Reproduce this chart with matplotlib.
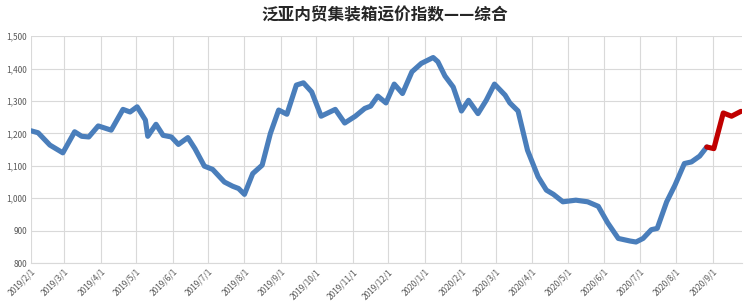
import matplotlib
matplotlib.use("Agg")
import matplotlib.pyplot as plt
import numpy as np
import pandas as pd

plt.rcParams['font.family'] = ['Noto Sans CJK SC', 'DejaVu Sans']

# 泛亚内贸集装箱运价指数 - 综合
dates_hist = ['2019-02-01', '2019-02-07', '2019-02-17', '2019-02-28', '2019-03-10',
              '2019-03-16', '2019-03-22', '2019-03-30', '2019-04-10', '2019-04-20',
              '2019-04-26', '2019-05-02', '2019-05-09', '2019-05-11', '2019-05-18',
              '2019-05-24', '2019-05-31', '2019-06-06', '2019-06-14', '2019-06-20',
              '2019-06-28', '2019-07-05', '2019-07-15', '2019-07-22', '2019-07-27',
              '2019-08-01', '2019-08-08', '2019-08-16', '2019-08-23', '2019-08-30',
              '2019-09-06', '2019-09-14', '2019-09-20', '2019-09-27', '2019-10-05',
              '2019-10-17', '2019-10-25', '2019-11-03', '2019-11-11', '2019-11-16',
              '2019-11-22', '2019-11-29', '2019-12-06', '2019-12-13', '2019-12-21',
              '2019-12-29', '2020-01-08', '2020-01-12', '2020-01-18', '2020-01-25',
              '2020-02-01', '2020-02-07', '2020-02-15', '2020-02-22', '2020-02-29',
              '2020-03-09', '2020-03-13', '2020-03-20', '2020-03-28', '2020-04-06',
              '2020-04-13', '2020-04-19', '2020-04-27', '2020-05-08', '2020-05-18',
              '2020-05-27', '2020-06-04', '2020-06-13', '2020-06-23', '2020-06-28',
              '2020-07-04', '2020-07-11', '2020-07-16', '2020-07-24', '2020-07-31',
              '2020-08-08', '2020-08-14', '2020-08-21', '2020-08-27']
values_hist = [1208, 1202, 1164, 1140, 1205,
               1191, 1189, 1223, 1210, 1274,
               1266, 1282, 1241, 1191, 1228,
               1194, 1189, 1166, 1187, 1153,
               1099, 1089, 1050, 1037, 1030,
               1012, 1076, 1102, 1200, 1272,
               1259, 1349, 1356, 1328, 1253,
               1274, 1232, 1253, 1277, 1284,
               1315, 1294, 1352, 1323, 1390,
               1416, 1434, 1421, 1377, 1343,
               1269, 1302, 1261, 1302, 1352,
               1318, 1294, 1269, 1148, 1066,
               1025, 1012, 989, 994, 989,
               975, 924, 876, 868, 865,
               876, 903, 907, 989, 1040,
               1107, 1112, 1130, 1158]

# 最新数据 (红色)
dates_new = ['2020-08-27', '2020-09-02', '2020-09-10', '2020-09-17', '2020-09-25']
values_new = [1158, 1153, 1263, 1253, 1268]

title = '泛亚内贸集装箱运价指数——综合'

fig = plt.figure(figsize=(7.47, 3.01), dpi=100)
ax = fig.add_axes([0.0415, 0.126, 0.952, 0.754])

ax.plot(pd.to_datetime(dates_hist), values_hist, color='#4a7ebb', lw=3.7,
        solid_capstyle='round', solid_joinstyle='round')
ax.plot(pd.to_datetime(dates_new), values_new, color='#c00000', lw=3.7,
        solid_capstyle='round', solid_joinstyle='round')

ax.set_xlim(pd.Timestamp('2019-02-01'), pd.Timestamp('2020-09-26'))
ax.set_ylim(800, 1500)
ax.set_yticks(np.arange(800, 1501, 100))
ax.yaxis.set_major_formatter(matplotlib.ticker.FuncFormatter(lambda v, p: f'{int(v):,}'))

ticks = pd.date_range('2019-02-01', '2020-09-01', freq='MS')
ax.set_xticks(ticks)
ax.set_xticklabels([f'{d.year}/{d.month}/{d.day}' for d in ticks],
                   rotation=45, ha='right', rotation_mode='anchor')

ax.grid(True, color='#d9d9d9', lw=0.8)
ax.set_axisbelow(True)
for s in ['top', 'right', 'left']:
    ax.spines[s].set_visible(False)
ax.spines['bottom'].set_color('#d9d9d9')
ax.tick_params(length=0, labelsize=6, colors='#595959', pad=3)

fig.text(0.515, 0.95, title, ha='center', va='center', fontsize=12,
         fontweight='bold', color='#262626')

fig.savefig('out.png', dpi=100)
